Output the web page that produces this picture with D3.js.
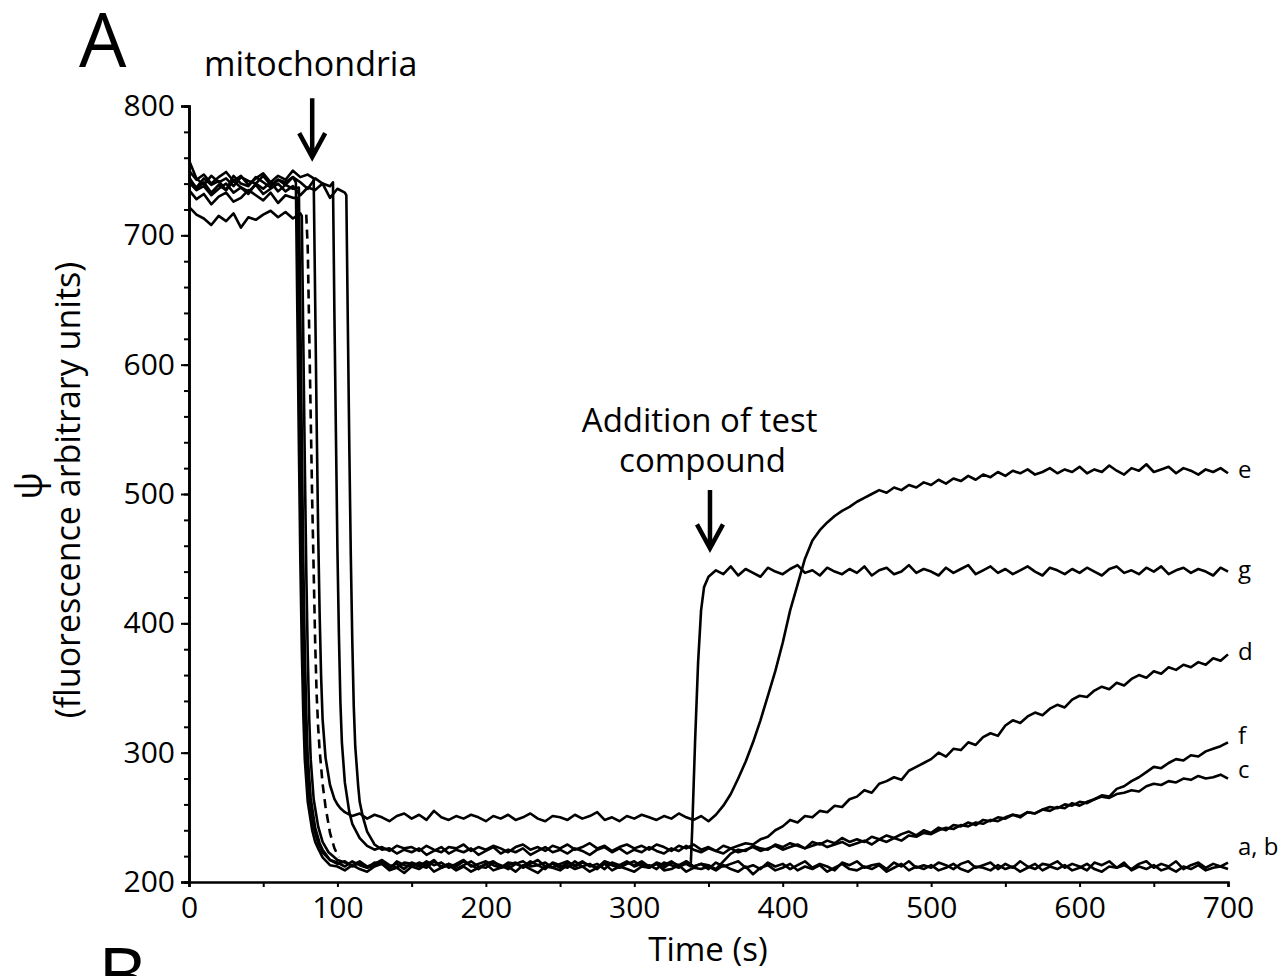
<!DOCTYPE html>
<html>
<head>
<meta charset="utf-8">
<script src="https://cdn.jsdelivr.net/npm/d3@7"></script>
<style>
  body { margin: 0; background: #fff; }
  text { font-family: "Open Sans", sans-serif; fill: #000; }
</style>
</head>
<body>
<svg id="chart" width="1286" height="976"></svg>
<script>
(function () {
    'use strict';

    // sampling step of the grid series (s)
    var STEP = 5;

    // ---- trace values, one value every 5 s from 0 to 700 s ----
    var traceA = [
        758, 744, 739, 746, 741, 744, 738, 745, 742, 740,
        746, 739, 743, 741, 745, 450, 262, 231, 219, 213,
        212, 209, 213, 210, 208, 212, 214, 209, 211, 207,
        212, 210, 214, 208, 211, 213, 209, 212, 208, 211,
        214, 209, 211, 212, 208, 213, 210, 207, 212, 211,
        209, 213, 210, 212, 208, 211, 214, 209, 212, 210,
        208, 212, 211, 214, 209, 210, 213, 208, 211, 210,
        212, 209, 213, 210, 208, 212, 206, 211, 213, 209,
        211, 214, 209, 212, 210, 213, 208, 211, 214, 210,
        209, 212, 210, 213, 208, 211, 214, 209, 212, 210,
        213, 209, 211, 214, 210, 208, 212, 211, 209, 213,
        210, 212, 208, 211, 214, 209, 212, 210, 213, 209,
        211, 214, 210, 208, 212, 211, 215, 209, 212, 210,
        213, 209, 211, 208, 212, 210, 213, 209, 211, 212,
        210
    ];
    var traceB = [
        745, 736, 741, 733, 739, 735, 742, 737, 732, 740,
        736, 741, 734, 739, 736, 640, 297, 242, 225, 217,
        214, 216, 212, 215, 211, 213, 216, 212, 214, 210,
        215, 213, 211, 216, 212, 214, 210, 213, 216, 212,
        211, 215, 213, 210, 214, 216, 212, 213, 210, 215,
        213, 211, 216, 212, 214, 210, 215, 213, 211, 214,
        216, 212, 213, 210, 215, 213, 211, 216, 212, 214,
        210, 215, 212, 214, 216, 211, 213, 210, 215, 212,
        214, 210, 213, 216, 211, 214, 212, 209, 215, 213,
        216, 211, 213, 214, 210, 215, 212, 216, 211, 213,
        211, 215, 213, 210, 214, 216, 211, 213, 215, 210,
        214, 211, 216, 212, 210, 214, 213, 216, 211, 214,
        212, 209, 215, 213, 216, 211, 213, 210, 214, 216,
        211, 214, 212, 216, 210, 213, 215, 211, 214, 212,
        215
    ];
    var traceC = [
        741, 735, 738, 731, 736, 740, 733, 737, 734, 739,
        732, 736, 740, 734, 738, 731, 737, 735, 740, 729,
        736, 733, 387, 262, 239, 229, 225, 226, 222, 225,
        223, 226, 221, 224, 227, 222, 225, 223, 226, 221,
        224, 227, 222, 225, 223, 226, 221, 224, 227, 223,
        225, 222, 226, 224, 221, 225, 227, 223, 226, 222,
        225, 223, 227, 224, 222, 226, 224, 228, 225, 223,
        226, 224, 222, 226, 223, 225, 227, 224, 226, 228,
        225, 227, 229, 226, 228, 230, 227, 229, 231, 228,
        230, 232, 229, 233, 231, 234, 232, 236, 235, 238,
        237, 240, 242, 241, 244, 243, 246, 245, 248, 247,
        250, 252, 251, 254, 253, 256, 258, 257, 260, 259,
        262, 261, 264, 266, 265, 268, 269, 271, 270, 274,
        276, 275, 278, 277, 280, 279, 282, 280, 281, 283,
        280
    ];
    var traceD = [
        743, 737, 744, 739, 742, 735, 746, 740, 738, 745,
        741, 737, 743, 739, 745, 741, 736, 744, 740, 738,
        457, 277, 245, 234, 228, 225, 227, 224, 228, 226,
        227, 224, 228, 225, 223, 227, 226, 229, 224, 227,
        225, 228, 226, 223, 227, 229, 225, 227, 224, 228,
        226, 229, 225, 227, 230, 226, 228, 224, 227, 229,
        226, 228, 225, 229, 227, 224, 228, 226, 229, 225,
        227, 224, 228, 226, 228, 230, 229, 233, 235, 240,
        243, 248, 246, 251, 250, 255, 254, 259, 258, 264,
        266, 271, 269, 276, 278, 281, 279, 286, 289, 292,
        295, 300, 297, 303, 302, 308, 306, 312, 315, 313,
        321, 325, 323, 328, 331, 329, 334, 337, 335, 341,
        344, 343, 348, 351, 349, 354, 352, 357, 360, 358,
        363, 361, 366, 364, 368, 366, 370, 368, 373, 371,
        376
    ];
    var traceE = [
        750, 743, 747, 740, 745, 749, 742, 746, 739, 744,
        748, 741, 746, 743, 750, 745, 747, 650, 326, 275,
        260, 254, 251, 253, 249, 252, 250, 247, 251, 253,
        249, 252, 248, 255, 250, 248, 251, 249, 252, 250,
        247, 251, 249, 252, 248, 250, 253, 249, 247, 251,
        250, 248, 252, 249, 251, 254, 248, 250, 247, 251,
        249, 252, 250, 248, 251, 249, 253, 250, 248, 251,
        247, 252, 259, 268, 280, 293, 308, 325, 344, 363,
        385, 410, 430, 450, 464, 472, 478, 483, 487, 490,
        494, 497, 500, 503, 501, 505, 503, 507, 505, 509,
        507, 511, 508, 512, 510, 514, 511, 515, 513, 517,
        514, 518, 516, 519, 515, 517, 520, 516, 519, 517,
        521, 516, 519, 517, 522, 518, 515, 520, 518, 523,
        517, 519, 521, 516, 520, 518, 515, 519, 517, 520,
        516
    ];
    var traceF = [
        722, 716, 713, 708, 715, 711, 717, 706, 714, 712,
        716, 719, 714, 718, 713, 717, 376, 257, 231, 222,
        217, 215, 213, 216, 212, 214, 217, 213, 211, 215,
        214, 212, 216, 213, 215, 211, 214, 217, 212, 214,
        216, 213, 211, 215, 214, 212, 216, 213, 215, 211,
        214, 216, 212, 215, 213, 211, 216, 214, 212, 215,
        213, 216, 212, 214, 211, 215, 213, 216, 212, 214,
        213, 210, 216, 222, 225, 224, 228, 226, 225, 229,
        227, 230, 228, 226, 231, 229, 232, 230, 234, 231,
        233, 231, 235, 233, 236, 234, 237, 239, 236, 240,
        238, 242, 240, 244, 243, 246, 244, 248, 247, 250,
        249, 252, 250, 254, 253, 256, 255, 258, 257, 261,
        259, 262, 264, 267, 266, 272, 274, 278, 281, 285,
        289, 288, 292, 295, 294, 298, 297, 301, 303, 305,
        308
    ];
    var traceG = [
        735, 728, 732, 724, 730, 733, 726, 729, 735, 731,
        727, 733, 725, 731, 729, 534, 280, 238, 223, 217,
        215, 212, 216, 213, 211, 215, 214, 210, 216, 213,
        212, 215, 213, 217, 211, 214, 212, 216, 213, 210,
        214, 216, 212, 213, 215, 211, 214, 217, 212, 214,
        211, 215, 213, 216, 212, 214, 210, 215, 213, 216,
        212, 214, 211, 215, 213, 216, 212, 214, 275, 410,
        436, 441, 438, 444, 437, 442, 439, 436, 443, 440,
        438, 442, 445, 439, 441, 437, 443, 440, 438, 442,
        439, 444, 437, 441, 443, 438, 440, 445, 439, 442,
        440, 437, 443, 439, 442, 445, 438, 441, 444, 439,
        442, 438, 441, 444, 440, 437, 443, 441, 438, 442,
        439, 443, 440, 437, 442, 444, 439, 441, 438, 443,
        440, 444, 438, 441, 443, 439, 442, 440, 437, 443,
        440
    ];

    // ---- extra [time, value] points where the traces drop / jump fast ----
    var dropA = [[72, 741], [73, 640], [74, 540], [76, 380], [77, 330], [78, 295], [83, 240], [87, 226]];
    var dropB = [[74, 737], [76, 542], [77, 449], [78, 381], [79, 331], [82, 265], [88, 230]];
    var dropC = [[106, 731], [107, 632], [108, 537], [109, 453], [111, 336], [112, 305], [114, 274], [117, 251], [124, 231]];
    var dropD = [[97, 741], [98, 636], [99, 545], [101, 391], [102, 339], [103, 308], [108, 254]];
    var dropE = [[84, 744], [86, 556], [87, 472], [88, 408], [89, 359], [92, 296], [98, 264], [102, 257]];
    var dropF = [[76, 715], [77, 620], [78, 526], [79, 441], [81, 326], [82, 295], [84, 264], [87, 243], [94, 223]];
    var dropG = [[73, 729], [74, 632], [76, 446], [77, 379], [78, 328], [79, 297], [81, 266], [84, 242], [87, 230],
                 [338, 212], [339, 240], [341, 310], [343, 370], [347, 428]];

    // dashed trace (only the falling part is drawn)
    var dashedTrace = [[79, 716], [80, 690], [81, 625], [82, 560], [83, 495], [84, 440], [85, 385], [86, 345],
                       [87, 320], [88, 302], [90, 276], [92, 258], [95, 238], [98, 226], [101, 219]];

    var xTickValues = [0, 100, 200, 300, 400, 500, 600, 700];
    var xMinorTicks = [0, 50, 100, 150, 200, 250, 300, 350, 400, 450, 500, 550, 600, 650, 700];
    var yTickValues = [200, 300, 400, 500, 600, 700, 800];
    var yMinorTicks = [200, 220, 240, 260, 280, 300, 320, 340, 360, 380, 400, 420, 440, 460, 480, 500,
                       520, 540, 560, 580, 600, 620, 640, 660, 680, 700, 720, 740, 760, 780, 800];

    // curve labels at the right end: [label, value]
    var curveLabels = [["e", 517], ["g", 440], ["d", 377], ["f", 312], ["c", 285], ["a, b", 226]];

    var svg = d3.select("#chart");
    var x = d3.scaleLinear().domain([0, 700]).range([189, 1228]);
    var y = d3.scaleLinear().domain([200, 800]).range([882, 106]);

    function build(grid, extra) {
        var pts = grid.map(function (v, i) { return [i * STEP, v]; }).concat(extra);
        pts.sort(function (p, q) { return p[0] - q[0]; });
        return pts;
    }

    var series = [
        build(traceA, dropA), build(traceB, dropB), build(traceC, dropC), build(traceD, dropD),
        build(traceE, dropE), build(traceF, dropF), build(traceG, dropG)
    ];

    var line = d3.line().x(function (d) { return x(d[0]); }).y(function (d) { return y(d[1]); });

    // axes
    var gx = svg.append("g").attr("transform", "translate(0,882)")
        .call(d3.axisBottom(x).tickValues(xMinorTicks).tickSize(5).tickPadding(10)
            .tickFormat(function (d) { return xTickValues.indexOf(d) >= 0 ? d : ""; }));
    var gyMinor = svg.append("g").attr("transform", "translate(189,0)")
        .call(d3.axisLeft(y).tickValues(yMinorTicks).tickSize(5).tickFormat(""));
    var gy = svg.append("g").attr("transform", "translate(189,0)")
        .call(d3.axisLeft(y).tickValues(yTickValues).tickSize(8).tickPadding(6));

    [gx, gy, gyMinor].forEach(function (g) {
        g.selectAll("path.domain").attr("stroke", "#000").attr("stroke-width", 2.6);
        g.selectAll(".tick line").attr("stroke", "#000").attr("stroke-width", 2);
        g.selectAll(".tick text").style("font-family", '"Open Sans", sans-serif')
            .style("font-size", "30px").attr("fill", "#000");
    });

    // traces
    svg.append("g").selectAll("path")
        .data(series)
        .enter().append("path")
        .attr("d", line)
        .attr("fill", "none")
        .attr("stroke", "#000")
        .attr("stroke-width", 2.6)
        .attr("stroke-linejoin", "round");

    svg.append("path")
        .attr("d", line(dashedTrace))
        .attr("fill", "none")
        .attr("stroke", "#000")
        .attr("stroke-width", 2.6)
        .attr("stroke-dasharray", "9,6");

    // curve labels
    svg.append("g").selectAll("text")
        .data(curveLabels)
        .enter().append("text")
        .attr("x", x(700) + 10)
        .attr("y", function (d) { return y(d[1]); })
        .attr("dominant-baseline", "middle")
        .style("font-size", "24px")
        .text(function (d) { return d[0]; });

    // arrows: [time, top value, tip value]
    var arrows = [[83, 806, 760.5], [351, 503, 458]];
    svg.append("g").selectAll("path")
        .data(arrows)
        .enter().append("path")
        .attr("d", function (d) {
            var ax = x(d[0]), y0 = y(d[1]), y1 = y(d[2]);
            return "M" + ax + "," + y0 + "V" + (y1 - 3) +
                "M" + (ax - 13) + "," + (y1 - 24) + "L" + ax + "," + y1 + "L" + (ax + 13) + "," + (y1 - 24);
        })
        .attr("fill", "none")
        .attr("stroke", "#000")
        .attr("stroke-width", 4.5);

    // annotation texts
    svg.append("text").attr("x", x(82)).attr("y", 76).attr("text-anchor", "middle")
        .style("font-size", "34px").text("mitochondria");
    svg.append("text").attr("x", x(344)).attr("y", 432).attr("text-anchor", "middle")
        .style("font-size", "33px").text("Addition of test");
    svg.append("text").attr("x", x(346)).attr("y", 472).attr("text-anchor", "middle")
        .style("font-size", "33px").text("compound");

    // axis titles
    svg.append("text").attr("x", 708).attr("y", 961).attr("text-anchor", "middle")
        .style("font-size", "33px").text("Time (s)");
    svg.append("text").attr("transform", "translate(42,486) rotate(-90)").attr("text-anchor", "middle")
        .style("font-size", "36px").text("\u03c8");
    svg.append("text").attr("transform", "translate(80,490) rotate(-90)").attr("text-anchor", "middle")
        .style("font-size", "34px").text("(fluorescence arbitrary units)");

    // panel letters
    svg.append("text").attr("x", 79).attr("y", 67).style("font-size", "75px").text("A");
    svg.append("text").attr("x", 98).attr("y", 1002).style("font-size", "75px").text("B");
}());
</script>
</body>
</html>
